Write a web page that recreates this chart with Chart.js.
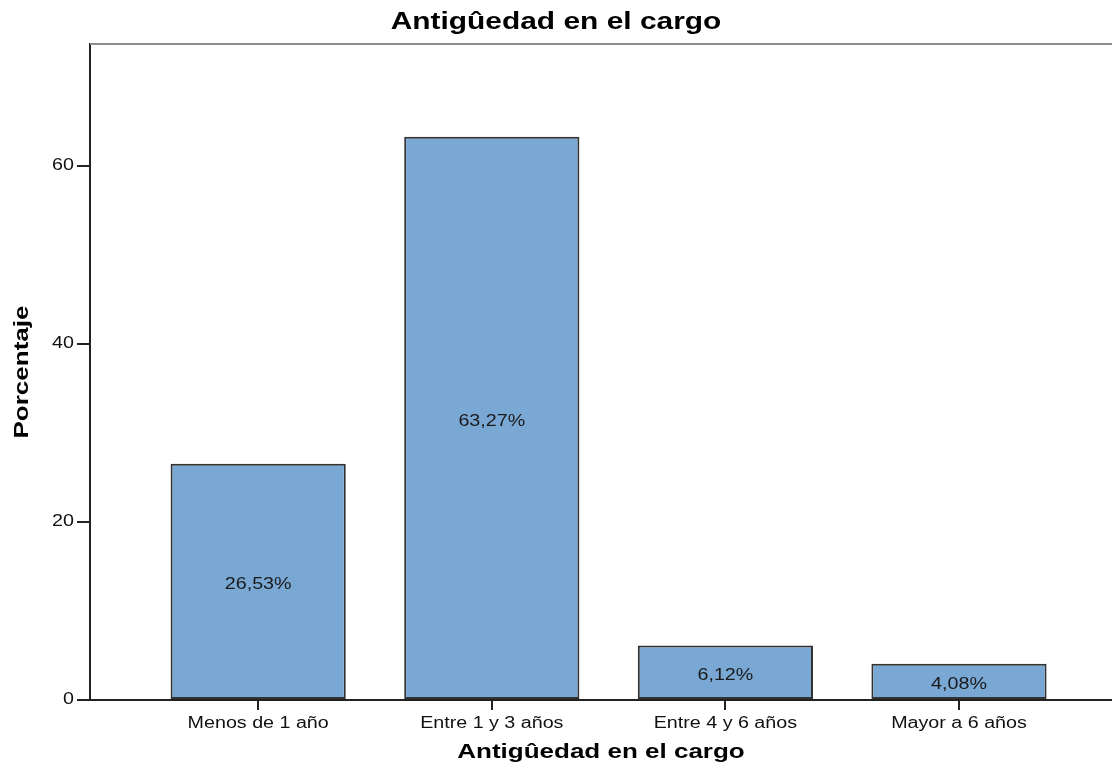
<!DOCTYPE html>
<html>
<head>
<meta charset="utf-8">
<script src="https://cdn.jsdelivr.net/npm/chart.js@4"></script>
<style>
  html, body { margin: 0; padding: 0; background: #fff; overflow: hidden; }
  #wrap { width: 1112px; height: 773px; position: relative; }
</style>
</head>
<body>
<div id="wrap"><canvas id="c" width="1112" height="773"></canvas></div>
<script>
// Antigüedad en el cargo: porcentaje por categoría
const categories = ["Menos de 1 año", "Entre 1 y 3 años", "Entre 4 y 6 años", "Mayor a 6 años"];
const percentages = [26.53, 63.27, 6.12, 4.08];
const yTicks = [0, 20, 40, 60];

const FONT = "'Liberation Sans', Arial, sans-serif";
const fmt = v => v.toFixed(2).replace('.', ',') + '%';

// Wide-set lettering: every text run is drawn stretched horizontally
// around its anchor point by the current factor.
let textStretch = 1;
const wideText = {
  id: 'wideText',
  beforeInit(chart) {
    const ctx = chart.ctx;
    const plain = ctx.fillText.bind(ctx);
    ctx.fillText = function (text, x, y, maxWidth) {
      if (textStretch === 1) return plain(text, x, y, maxWidth);
      this.save();
      this.translate(x, y);
      this.scale(textStretch, 1);
      plain(text, 0, 0);
      this.restore();
    };
  },
  beforeDraw() { textStretch = 1.3; },   // chart and axis titles
  afterDraw() { textStretch = 1; }
};

// Value labels centred inside each bar
const barLabels = {
  id: 'barLabels',
  afterDatasetsDraw(chart) {
    const ctx = chart.ctx;
    const meta = chart.getDatasetMeta(0);
    textStretch = 1.23;
    ctx.save();
    ctx.font = "16px " + FONT;
    ctx.fillStyle = '#1a1a1a';
    ctx.textAlign = 'center';
    ctx.textBaseline = 'middle';
    meta.data.forEach((bar, i) => {
      const yc = (bar.y + bar.base) / 2;
      ctx.fillText(fmt(percentages[i]), bar.x, yc + 3.5);
    });
    ctx.restore();
    textStretch = 1.23;                    // tick labels drawn next
  }
};

// Thin grey frame line across the top of the plot area
const topFrame = {
  id: 'topFrame',
  afterDraw(chart) {
    const { ctx, chartArea } = chart;
    ctx.save();
    ctx.strokeStyle = '#8c8c8c';
    ctx.lineWidth = 2;
    ctx.beginPath();
    ctx.moveTo(chartArea.left, chartArea.top);
    ctx.lineTo(chartArea.right, chartArea.top);
    ctx.stroke();
    ctx.restore();
  }
};

new Chart(document.getElementById('c'), {
  type: 'bar',
  data: {
    datasets: [{
      data: percentages.map((v, i) => ({ x: i, y: v })),
      backgroundColor: '#7aa8d5',
      borderColor: '#333333',
      borderWidth: 2,
      borderSkipped: false,
      categoryPercentage: 1,
      barPercentage: 0.75
    }]
  },
  options: {
    responsive: false,
    animation: false,
    layout: { padding: 0 },
    plugins: {
      legend: { display: false },
      tooltip: { enabled: false },
      title: {
        display: true,
        text: 'Antigûedad en el cargo',
        color: '#000',
        font: { family: FONT, size: 23, weight: 'bold' },
        padding: { top: 9, bottom: 7.4 }
      }
    },
    scales: {
      x: {
        type: 'linear',
        offset: false,
        min: -0.72,
        max: 3.655,
        afterBuildTicks: s => { s.ticks = categories.map((_, i) => ({ value: i })); },
        afterFit: s => { s.height = 73; },
        grid: { offset: false, drawOnChartArea: false, drawTicks: true, tickLength: 10, color: '#222', lineWidth: 2 },
        border: { display: true, color: '#222', width: 2 },
        ticks: {
          z: 1,
          autoSkip: false,
          maxRotation: 0,
          color: '#111',
          padding: 4,
          font: { family: FONT, size: 16 },
          callback: v => categories[v]
        },
        title: {
          display: true,
          text: 'Antigûedad en el cargo',
          color: '#000',
          font: { family: FONT, size: 20, weight: 'bold' },
          padding: { top: 0, bottom: 9 }
        }
      },
      y: {
        min: 0,
        max: 73.7,
        afterBuildTicks: s => { s.ticks = yTicks.map(v => ({ value: v })); },
        afterFit: s => { s.width = 90; },
        grid: { drawOnChartArea: false, drawTicks: true, tickLength: 13, color: '#222', lineWidth: 2 },
        border: { display: true, color: '#222', width: 2 },
        ticks: {
          z: 1,
          color: '#111',
          padding: 3,
          font: { family: FONT, size: 16 }
        },
        title: {
          display: true,
          text: 'Porcentaje',
          color: '#000',
          font: { family: FONT, size: 20, weight: 'bold' },
          padding: { top: 10, bottom: 0 }
        }
      }
    }
  },
  plugins: [wideText, barLabels, topFrame]
});
</script>
</body>
</html>
